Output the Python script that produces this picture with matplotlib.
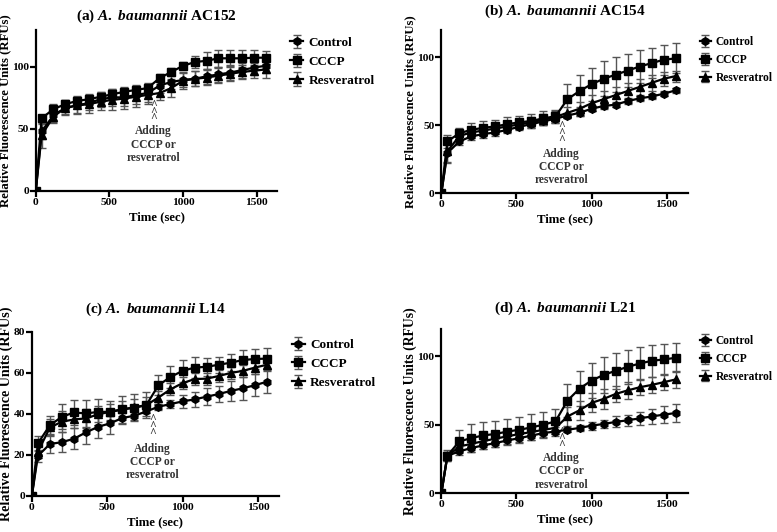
import matplotlib
matplotlib.use("Agg")
import matplotlib.pyplot as plt

plt.rcParams["font.family"] = "Liberation Serif"
plt.rcParams["font.weight"] = "bold"
plt.rcParams["axes.labelweight"] = "bold"
plt.rcParams["axes.titleweight"] = "bold"
plt.rcParams["mathtext.fontset"] = "custom"
plt.rcParams["mathtext.it"] = "Liberation Serif:italic:bold"
plt.rcParams["mathtext.rm"] = "Liberation Serif:bold"

# sampling times (sec)
time = [0, 40, 120, 200, 280, 360, 440, 520, 600, 680, 760,
        840, 920, 1000, 1080, 1160, 1240, 1320, 1400, 1480, 1560]

series_names = ["Control", "CCCP", "Resveratrol"]
panel_titles = [r"(a) $\it{A.\ baumannii}$ AC152",
                r"(b) $\it{A.\ baumannii}$ AC154",
                r"(c) $\it{A.\ baumannii}$ L14",
                r"(d) $\it{A.\ baumannii}$ L21"]

# (a) AC152
a_control = [0, 48, 61, 67, 69, 71, 74, 75.5, 75.5, 77.5, 79, 85, 88, 89.5, 90.5, 92.5, 94, 95.5, 97.5, 99.5, 101]
a_control_err = [0, 6, 5, 5, 6, 6, 6, 7, 7, 7, 7, 6, 6, 6, 6, 6, 6, 6, 6, 6, 6]
a_cccp = [0, 58.6, 66, 70, 72.6, 74, 76, 78, 80, 81.5, 83, 91, 96, 101, 104, 105, 107, 107, 107, 107.5, 107.5]
a_cccp_err = [0, 3, 4, 3, 4, 4, 4, 4, 4, 4, 4, 3, 3, 3, 5, 7, 7, 7, 7, 6, 5]
a_resv = [0, 45, 60, 67, 69, 70, 72, 73.5, 74.5, 76, 77.5, 79, 83, 89, 90.5, 91.5, 93, 94.5, 96, 97, 98]
a_resv_err = [0, 10, 5, 6, 7, 7, 7, 8, 8, 8, 7, 6, 7, 7, 6, 6, 6, 6, 6, 6, 7]

# (b) AC154
b_control = [0, 29.4, 38, 41.7, 43.4, 44.6, 46.5, 48.8, 50.7, 52.7, 54.7, 57, 59, 62, 64, 65, 67.6, 69.6, 71, 73, 75.5]
b_control_err = [0, 7, 3, 3, 3, 3, 2, 2, 2, 3, 3, 2, 2, 2, 2, 2, 2, 2, 2, 2, 2]
b_cccp = [0, 38, 44, 46.5, 48, 49, 50.7, 52, 53, 55, 56.4, 69, 75, 80, 84, 87, 90, 93, 95.5, 98, 99]
b_cccp_err = [0, 5, 4, 5, 5, 5, 5, 5, 5, 5, 5, 11, 12, 12, 13, 13, 12, 12, 11, 11, 11]
b_resv = [0, 30.6, 42, 44.6, 46, 47.5, 49, 50.5, 52, 54, 56, 59, 62, 66, 69, 72, 75, 78, 81, 84, 86]
b_resv_err = [0, 8, 4, 4, 4, 4, 4, 4, 4, 4, 4, 4, 5, 6, 6, 6, 6, 6, 6, 5, 4]

# (c) L14
c_control = [0, 19.5, 25.3, 26.2, 27.9, 31, 33.7, 35.4, 38, 39.1, 41.2, 43.5, 44.8, 46.1, 47.1, 48.4, 49.7, 51.2, 52.5, 54, 55.7]
c_control_err = [0, 3, 4.5, 5, 5, 5.5, 5.5, 5, 3, 2, 2, 1.5, 2, 3, 3.5, 4, 4, 5, 5.5, 5.5, 5.5]
c_cccp = [0, 25.6, 34.5, 38.6, 40.7, 40.2, 41, 41, 42.2, 43, 44.3, 54, 58, 61, 62.6, 63, 64, 65, 66.3, 66.8, 67]
c_cccp_err = [0, 3.5, 4.5, 6, 6, 6.5, 6.5, 5.5, 6.5, 6.5, 6.5, 5, 5.5, 5.5, 5, 4.5, 4, 4, 5, 5, 5]
c_resv = [0, 21.5, 33.4, 36.2, 37.3, 37.8, 39.8, 41, 42.2, 43.2, 44.3, 48, 52, 55, 57, 57.2, 58.5, 60, 61, 62.6, 64]
c_resv_err = [0, 3, 4, 5, 4, 4.5, 4, 4, 4, 4, 4, 3, 3, 3, 3, 3, 3, 3, 3, 3, 3]

# (d) L21
d_control = [0, 27.3, 30.5, 33, 34.9, 36.6, 38.5, 40.2, 42, 43.9, 45, 46.3, 47.6, 49.3, 50.5, 52, 53.2, 54.6, 56, 57.3, 58.5]
d_control_err = [0, 3, 3, 3, 3, 3, 3, 3, 3, 3, 3, 2, 2, 3, 3, 4, 4, 5, 5.5, 6, 6.5]
d_cccp = [0, 27.3, 37.8, 40.2, 42.2, 43.2, 45, 46.3, 48, 50, 52.4, 67.6, 76.3, 82.2, 86.3, 89.3, 92.2, 94.6, 96.6, 97.6, 98.8]
d_cccp_err = [0, 4, 8, 10, 10, 9.5, 9, 9.5, 9.5, 9.5, 9, 12, 13, 13, 13, 13, 12.5, 12, 11.5, 11, 10.5]
d_resv = [0, 26.8, 34.1, 36, 38, 39.8, 41.5, 43.2, 44.6, 46.3, 47.6, 56, 60.5, 65.9, 68.8, 72.4, 75, 77.3, 79, 81, 83]
d_resv_err = [0, 3, 3, 3, 3, 3, 3, 3, 3, 3, 3, 7, 7, 7, 7, 6, 6, 6, 6, 6, 6]

panels = [
    [(a_control, a_control_err), (a_cccp, a_cccp_err), (a_resv, a_resv_err)],
    [(b_control, b_control_err), (b_cccp, b_cccp_err), (b_resv, b_resv_err)],
    [(c_control, c_control_err), (c_cccp, c_cccp_err), (c_resv, c_resv_err)],
    [(d_control, d_control_err), (d_cccp, d_cccp_err), (d_resv, d_resv_err)],
]

# layout: axes rect, y limit, y ticks, title pad, caret y, note top y, legend font, ylabel font
layout = [
    dict(rect=[0.046, 0.641, 0.311, 0.303], ylim=130, yticks=[0, 50, 100], pad=7,
         caret=64, note=53, lfs=9.5, yfs=9.2),
    dict(rect=[0.568, 0.637, 0.317, 0.307], ylim=120, yticks=[0, 50, 100], pad=11,
         caret=44, note=33.5, lfs=8.3, yfs=9.2),
    dict(rect=[0.041, 0.068, 0.318, 0.308], ylim=80, yticks=[0, 20, 40, 60, 80], pad=14,
         caret=34, note=26, lfs=9.5, yfs=10.2),
    dict(rect=[0.568, 0.073, 0.317, 0.309], ylim=120, yticks=[0, 50, 100], pad=12,
         caret=40, note=30, lfs=8.3, yfs=9.8),
]
markers = ["h", "s", "^"]

fig = plt.figure(figsize=(7.77, 5.32), dpi=100)

for p, lay in enumerate(layout):
    ax = fig.add_axes(lay["rect"])
    for (vals, errs), name, mk in zip(panels[p], series_names, markers):
        ax.errorbar(time, vals, yerr=errs, color="black", ecolor="#555555",
                    elinewidth=1, capsize=3, capthick=1, marker=mk, ms=5.5,
                    lw=1.6, label=name, zorder=3)
    ax.set_xlim(0, 1640)
    ax.set_ylim(0, lay["ylim"])
    ax.set_xticks([0, 500, 1000, 1500])
    ax.set_yticks(lay["yticks"])
    for s in ["top", "right"]:
        ax.spines[s].set_visible(False)
    for s in ["left", "bottom"]:
        ax.spines[s].set_linewidth(1.6)
    ax.tick_params(width=1.6, length=4, labelsize=8.2, pad=1)
    ax.set_xlabel("Time (sec)", fontsize=9.2, labelpad=3)
    ax.set_ylabel("Relative Fluorescence Units (RFUs)", fontsize=lay["yfs"], labelpad=0.5)
    ax.set_title(panel_titles[p], fontsize=11, pad=lay["pad"])
    ax.text(800, lay["caret"], "^\n^\n^", fontsize=8.5, ha="center", va="center",
            linespacing=0.42, color="#333333")
    ax.text(800, lay["note"], "Adding\nCCCP or\nresveratrol", fontsize=8.3,
            ha="center", va="top", linespacing=1.15, color="#333333")
    ax.legend(loc="upper left", bbox_to_anchor=(1.03, 0.99), frameon=False,
              fontsize=lay["lfs"], handlelength=1.0, handletextpad=0.4, labelspacing=0.5,
              borderaxespad=0)

fig.savefig("out.png", dpi=100)
